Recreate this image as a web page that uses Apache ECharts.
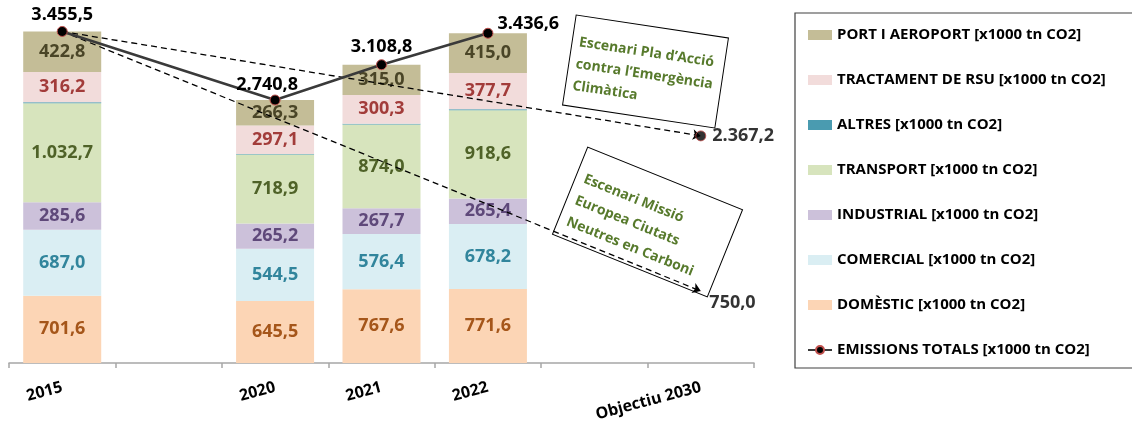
<!DOCTYPE html>
<html>
<head>
<meta charset="utf-8">
<script src="https://cdn.jsdelivr.net/npm/echarts@6/dist/echarts.min.js"></script>
<style>
  html, body { margin: 0; padding: 0; background: #fff; }
  #chart { width: 1132px; height: 429px; }
</style>
</head>
<body>
<div id="chart"></div>
<script>
// Categories on the x axis (two empty slots keep the time gaps)
const categories = ['2015', '', '2020', '2021', '2022', ' ', 'Objectiu 2030'];

// Emissions by sector [x1000 tn CO2]
const domestic   = [701.6, null, 645.5, 767.6, 771.6, null, null];
const comercial  = [687.0, null, 544.5, 576.4, 678.2, null, null];
const industrial = [285.6, null, 265.2, 267.7, 265.4, null, null];
const transport  = [1032.7, null, 718.9, 874.0, 918.6, null, null];
const altres     = [9.6, null, 3.3, 7.8, 10.1, null, null];
const tractament = [316.2, null, 297.1, 300.3, 377.7, null, null];
const port       = [422.8, null, 266.3, 315.0, 415.0, null, null];

// Total emissions per year
const totals = [3455.5, null, 2740.8, 3108.8, 3436.6, null, null];

// 2030 targets of each scenario
const objectiuPla = 2367.2;
const objectiuMissio = 750.0;

const FONT = '"Open Sans"';

function fmt(v) {
  const s = v.toFixed(1).split('.');
  return s[0].replace(/\B(?=(\d{3})+(?!\d))/g, '.') + ',' + s[1];
}
const dash = arr => arr.map(v => (v == null ? '-' : v));

function barSeries(name, data, color, labelColor, showLabel) {
  return {
    name: name,
    type: 'bar',
    stack: 'total',
    barWidth: 78,
    data: dash(data),
    itemStyle: { color: color },
    label: {
      show: showLabel,
      position: 'inside',
      color: labelColor,
      fontFamily: FONT,
      fontWeight: 'bold',
      fontSize: 18,
      formatter: p => fmt(p.value)
    },
    z: 2
  };
}

const totalLabelPos = [
  { position: 'top', distance: 2, offset: [0, 0] },
  null,
  { position: 'top', distance: 1, offset: [-8, 0] },
  { position: 'top', distance: 3, offset: [0, 0] },
  { position: 'right', distance: 4, offset: [0, -9] },
  null,
  null
];

const totalData = totals.map((v, i) => {
  if (v == null) return '-';
  return { value: v, label: totalLabelPos[i] };
});

const option = {
  animation: false,
  backgroundColor: '#fff',
  textStyle: { fontFamily: FONT },
  grid: { left: 9, right: 378, top: 8, bottom: 66 },
  xAxis: {
    type: 'category',
    data: categories,
    axisLine: { lineStyle: { color: '#a6a6a6', width: 1.5 } },
    axisTick: { show: true, length: 5, lineStyle: { color: '#a6a6a6', width: 1.5 } },
    axisLabel: {
      rotate: 15,
      margin: 24,
      color: '#000',
      fontFamily: FONT,
      fontWeight: 'bold',
      fontSize: 16
    }
  },
  yAxis: {
    type: 'value',
    min: 0,
    max: 3700,
    show: false,
    splitLine: { show: false }
  },
  legend: {
    orient: 'vertical',
    left: 795,
    top: 13,
    padding: [12, 30, 8, 12],
    borderColor: '#404040',
    borderWidth: 1.2,
    itemWidth: 24,
    itemHeight: 10,
    itemGap: 25,
    textStyle: {
      color: '#000',
      fontFamily: FONT,
      fontWeight: 'bold',
      fontSize: 15,
      lineHeight: 20
    },
    data: [
      { name: 'PORT I AEROPORT [x1000 tn CO2]', icon: 'rect' },
      { name: 'TRACTAMENT DE RSU [x1000 tn CO2]', icon: 'rect' },
      { name: 'ALTRES [x1000 tn CO2]', icon: 'rect' },
      { name: 'TRANSPORT [x1000 tn CO2]', icon: 'rect' },
      { name: 'INDUSTRIAL [x1000 tn CO2]', icon: 'rect' },
      { name: 'COMERCIAL [x1000 tn CO2]', icon: 'rect' },
      { name: 'DOMÈSTIC [x1000 tn CO2]', icon: 'rect' },
      { name: 'EMISSIONS TOTALS [x1000 tn CO2]' }
    ]
  },
  series: [
    barSeries('DOMÈSTIC [x1000 tn CO2]', domestic, '#fcd5b5', '#a5561a', true),
    barSeries('COMERCIAL [x1000 tn CO2]', comercial, '#daeef3', '#31859c', true),
    barSeries('INDUSTRIAL [x1000 tn CO2]', industrial, '#ccc1da', '#5f497a', true),
    barSeries('TRANSPORT [x1000 tn CO2]', transport, '#d7e4bd', '#4f6228', true),
    barSeries('ALTRES [x1000 tn CO2]', altres, '#4a9bb0', '#31859c', false),
    barSeries('TRACTAMENT DE RSU [x1000 tn CO2]', tractament, '#f2dcdb', '#a23c3a', true),
    barSeries('PORT I AEROPORT [x1000 tn CO2]', port, '#c4bd97', '#4a4527', true),
    {
      name: 'EMISSIONS TOTALS [x1000 tn CO2]',
      type: 'line',
      data: totalData,
      connectNulls: true,
      symbol: 'circle',
      symbolSize: 10,
      lineStyle: { color: '#3a3a3a', width: 2.5 },
      itemStyle: { color: '#000', borderColor: '#c0504d', borderWidth: 1 },
      label: {
        show: true,
        color: '#000',
        fontFamily: FONT,
        fontWeight: 'bold',
        fontSize: 18,
        formatter: p => fmt(p.value)
      },
      z: 5
    },
    {
      name: 'objectiu',
      type: 'scatter',
      data: [
        { value: [6, objectiuPla], symbolSize: 10, label: { offset: [0, 0] } },
        { value: [6, objectiuMissio], symbolSize: 0.1, label: { offset: [2, 12] } }
      ],
      itemStyle: { color: '#000', borderColor: '#c0504d', borderWidth: 1 },
      label: {
        show: true,
        position: 'right',
        distance: 6,
        color: '#000',
        fontFamily: FONT,
        fontWeight: 'bold',
        fontSize: 18,
        formatter: p => fmt(p.value[1])
      },
      markLine: {
        silent: true,
        symbol: ['none', 'arrow'],
        symbolSize: 8,
        label: { show: false },
        lineStyle: { color: '#000', type: [6, 4], width: 1.3 },
        data: [
          [{ coord: [0, totals[0]] }, { coord: [6, objectiuPla] }],
          [{ coord: [0, totals[0]] }, { coord: [6, objectiuMissio] }]
        ]
      },
      z: 6
    }
  ],
  graphic: [
    {
      type: 'group',
      x: 645.5,
      y: 71.5,
      rotation: -8.6 * Math.PI / 180,
      z: 10,
      children: [
        {
          type: 'rect',
          shape: { x: -77, y: -45.5, width: 154, height: 91 },
          style: { fill: '#fff', stroke: '#000', lineWidth: 1 }
        },
        {
          type: 'text',
          x: -70,
          y: -30,
          style: {
            text: 'Escenari Pla d’Acció\ncontra l’Emergència\nClimàtica',
            fill: '#577a2c',
            font: 'bold 14px "Open Sans"',
            lineHeight: 22,
            textAlign: 'left',
            textVerticalAlign: 'top'
          }
        }
      ]
    },
    {
      type: 'group',
      x: 647.5,
      y: 222,
      rotation: -22 * Math.PI / 180,
      z: 10,
      children: [
        {
          type: 'rect',
          shape: { x: -83.5, y: -47, width: 167, height: 94 },
          style: { fill: '#fff', stroke: '#000', lineWidth: 1 }
        },
        {
          type: 'text',
          x: -75,
          y: -28,
          style: {
            text: 'Escenari Missió\nEuropea Ciutats\nNeutres en Carboni',
            fill: '#577a2c',
            font: 'bold 14px "Open Sans"',
            lineHeight: 23,
            textAlign: 'left',
            textVerticalAlign: 'top'
          }
        }
      ]
    }
  ]
};

const chart = echarts.init(document.getElementById('chart'), null, { renderer: 'canvas' });
chart.setOption(option);
</script>
</body>
</html>
